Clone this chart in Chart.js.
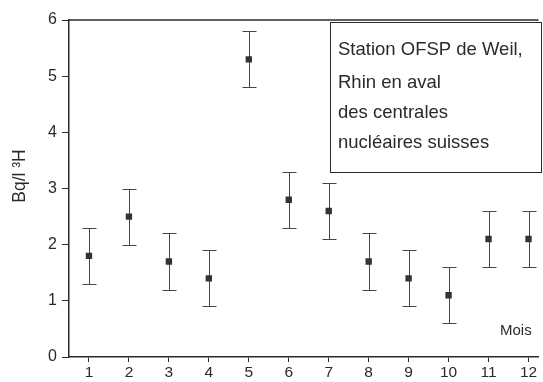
<!DOCTYPE html>
<html>
<head>
<meta charset="utf-8">
<script src="https://cdn.jsdelivr.net/npm/chart.js@4.4.1/dist/chart.umd.min.js"></script>
<style>
  body { margin: 0; background: #fff; }
  #mychart { display: block; }
</style>
</head>
<body>
<canvas id="mychart" width="543" height="382"></canvas>
<script>
// monthly tritium values (Bq/l) with their uncertainty
const months = [1, 2, 3, 4, 5, 6, 7, 8, 9, 10, 11, 12];
const values = [1.8, 2.5, 1.7, 1.4, 5.3, 2.8, 2.6, 1.7, 1.4, 1.1, 2.1, 2.1];
const errors = [0.5, 0.5, 0.5, 0.5, 0.5, 0.5, 0.5, 0.5, 0.5, 0.5, 0.5, 0.5];
const yTicks = [0, 1, 2, 3, 4, 5, 6];
const boxLines = ["Station OFSP de Weil,", "Rhin en aval", "des centrales", "nucléaires suisses"];

const ink = '#2a2a2a';
const font = 'Liberation Sans, Arial, sans-serif';

// error bars + top frame + text box + labels
const extras = {
    id: 'extras',
    beforeDatasetsDraw(chart) {
        const ctx = chart.ctx;
        const xs = chart.scales.x, ys = chart.scales.y;
        ctx.save();
        ctx.strokeStyle = '#444';
        ctx.lineWidth = 1;
        for (let i = 0; i < months.length; i++) {
            const x = Math.round(xs.getPixelForValue(months[i])) + 0.5;
            const yt = Math.round(ys.getPixelForValue(values[i] + errors[i])) + 0.5;
            const yb = Math.round(ys.getPixelForValue(values[i] - errors[i])) + 0.5;
            ctx.beginPath();
            ctx.moveTo(x, yt); ctx.lineTo(x, yb);
            ctx.moveTo(x - 7, yt); ctx.lineTo(x + 7, yt);
            ctx.moveTo(x - 7, yb); ctx.lineTo(x + 7, yb);
            ctx.stroke();
        }
        ctx.restore();
    },
    afterDraw(chart) {
        const ctx = chart.ctx;
        const a = chart.chartArea;
        ctx.save();
        ctx.strokeStyle = ink;
        ctx.lineWidth = 1.5;
        ctx.beginPath();
        ctx.moveTo(a.left, a.top);
        ctx.lineTo(a.right, a.top);
        ctx.stroke();

        // text box
        ctx.lineWidth = 1;
        ctx.strokeRect(330.5, 22.5, 211, 150);
        ctx.fillStyle = ink;
        ctx.font = '18.5px ' + font;
        ctx.textBaseline = 'middle';
        const ly = [50, 83, 113, 143];
        boxLines.forEach((t, i) => ctx.fillText(t, 338, ly[i]));

        ctx.font = '15px ' + font;
        ctx.fillText('Mois', 500, 331);

        // y axis title
        ctx.translate(20, 176);
        ctx.rotate(-Math.PI / 2);
        ctx.textAlign = 'center';
        ctx.font = '17.5px ' + font;
        ctx.fillText('Bq/l ³H', 0, 0);
        ctx.restore();
    }
};

new Chart(document.getElementById('mychart'), {
    type: 'scatter',
    data: {
        datasets: [{
            data: months.map((m, i) => ({ x: m, y: values[i] })),
            pointStyle: 'rect',
            pointRadius: 4.5,
            pointBackgroundColor: '#333',
            pointBorderColor: '#333',
            pointBorderWidth: 0
        }]
    },
    options: {
        responsive: false,
        animation: false,
        layout: { padding: { top: 20, right: 0, left: 0, bottom: 0 } },
        plugins: { legend: { display: false }, tooltip: { enabled: false } },
        scales: {
            x: {
                type: 'linear',
                min: 0.5,
                max: 12.25,
                afterBuildTicks: scale => { scale.ticks = months.map(v => ({ value: v })); },
                afterFit: scale => { scale.height = 25; },
                grid: { drawOnChartArea: false, drawTicks: true, tickLength: 5, color: ink },
                border: { color: ink, width: 1.5 },
                ticks: { color: ink, font: { family: font, size: 15.5 }, padding: 1, maxRotation: 0 }
            },
            y: {
                min: 0,
                max: 6,
                afterBuildTicks: scale => { scale.ticks = yTicks.map(v => ({ value: v })); },
                afterFit: scale => { scale.width = 69; },
                grid: { drawOnChartArea: false, drawTicks: true, tickLength: 7, color: ink },
                border: { color: ink, width: 1.5 },
                ticks: { color: ink, font: { family: font, size: 16 }, padding: 5 }
            }
        }
    },
    plugins: [extras]
});
</script>
</body>
</html>
